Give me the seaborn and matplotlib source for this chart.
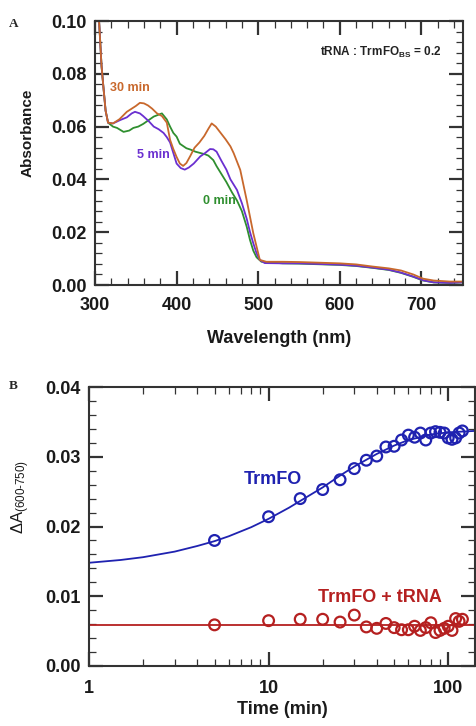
import numpy as np
import pandas as pd
import matplotlib
matplotlib.use("Agg")
import matplotlib.pyplot as plt
from matplotlib.ticker import MultipleLocator, FixedLocator, NullFormatter, LogLocator
import seaborn as sns

sns.set_theme(style="ticks")
plt.rcParams['font.family'] = ['Liberation Sans', 'DejaVu Sans']
plt.rcParams['mathtext.fontset'] = 'custom'
plt.rcParams['mathtext.rm'] = 'Liberation Sans'
plt.rcParams['mathtext.bf'] = 'Liberation Sans:bold'
plt.rcParams['mathtext.default'] = 'regular'

# ---------------- Panel A data (absorbance spectra) ----------------
wl_30 = [302, 305, 308, 310, 313, 316, 322, 330, 339, 350, 355, 360, 365, 370, 376, 382,
         388, 392, 396, 400, 404, 408, 412, 417, 422, 428, 434, 439, 443, 448, 453, 460,
         466, 470, 478, 486, 494, 502, 510, 530, 550, 570, 600, 620, 640, 660, 675, 690,
         702, 715, 735, 750]
abs_30 = [0.115, 0.100, 0.083, 0.076, 0.066, 0.0615, 0.0612, 0.0628, 0.0656, 0.0678, 0.069,
          0.0688, 0.068, 0.0668, 0.065, 0.0640, 0.0615, 0.055, 0.0515, 0.0485, 0.0460, 0.0451,
          0.0462, 0.049, 0.052, 0.054, 0.0565, 0.0592, 0.0612, 0.060, 0.058, 0.0552, 0.0525,
          0.0499, 0.0436, 0.032, 0.0196, 0.0095, 0.0088, 0.0088, 0.0087, 0.0085, 0.0082,
          0.0078, 0.0070, 0.0063, 0.0055, 0.0040, 0.0024, 0.0017, 0.0013, 0.0013]

wl_5 = [302, 305, 308, 310, 313, 316, 322, 331, 339, 345, 349, 355, 359, 366, 372, 378,
        384, 388, 392, 396, 400, 405, 410, 415, 421, 429, 435, 441, 445, 449, 455, 461,
        466, 474, 480, 486, 490, 494, 498, 502, 508, 530, 550, 570, 600, 620, 640, 660,
        675, 690, 702, 715, 735, 750]
abs_5 = [0.115, 0.100, 0.083, 0.076, 0.066, 0.0615, 0.0612, 0.0625, 0.0635, 0.065, 0.0656,
         0.065, 0.064, 0.062, 0.060, 0.059, 0.0576, 0.056, 0.054, 0.050, 0.046, 0.0443, 0.0437,
         0.0445, 0.046, 0.0487, 0.050, 0.0515, 0.0514, 0.0505, 0.047, 0.0437, 0.0400, 0.036,
         0.031, 0.0250, 0.020, 0.0158, 0.012, 0.0095, 0.0083, 0.0082, 0.0082, 0.0080, 0.0077,
         0.0073, 0.0066, 0.0058, 0.0047, 0.0032, 0.0018, 0.0010, 0.0008, 0.0010]

wl_0 = [302, 305, 308, 310, 313, 316, 322, 327, 335, 342, 347, 353, 359, 366, 372, 382,
        388, 392, 396, 400, 404, 412, 417, 423, 429, 435, 439, 445, 449, 455, 461, 468,
        474, 480, 486, 490, 494, 498, 504, 530, 550, 570, 600, 620, 640, 660, 675, 690,
        702, 715, 735, 750]
abs_0 = [0.115, 0.100, 0.083, 0.076, 0.066, 0.0615, 0.060, 0.0595, 0.058, 0.0585, 0.0595,
         0.060, 0.061, 0.0625, 0.0638, 0.065, 0.0627, 0.060, 0.0576, 0.0562, 0.0535, 0.0518,
         0.0513, 0.0505, 0.0500, 0.0495, 0.049, 0.0473, 0.045, 0.042, 0.0390, 0.035, 0.032,
         0.028, 0.022, 0.017, 0.013, 0.0105, 0.0088, 0.0082, 0.0081, 0.0079, 0.0076, 0.0072,
         0.0065, 0.0057, 0.0046, 0.0031, 0.0017, 0.0010, 0.0008, 0.0010]

# ---------------- Panel B data (kinetics) ----------------
time_min = [5, 10, 15, 20, 25, 30, 35, 40, 45, 50, 55, 60, 65, 70, 75, 80, 85, 90,
            95, 100, 105, 110, 115, 120]
dA_trmfo = [0.0180, 0.0214, 0.0240, 0.0253, 0.0267, 0.0283, 0.0295, 0.0301, 0.0314,
            0.0315, 0.0324, 0.0331, 0.0328, 0.0334, 0.0324, 0.0334, 0.0336, 0.0335,
            0.0334, 0.0327, 0.0325, 0.0327, 0.0334, 0.0337]
dA_trna = [0.0059, 0.0065, 0.0067, 0.0067, 0.0063, 0.0073, 0.0056, 0.0054, 0.0061,
           0.0055, 0.0052, 0.0052, 0.0057, 0.0051, 0.0055, 0.0062, 0.0048, 0.0051,
           0.0054, 0.0057, 0.0051, 0.0068, 0.0064, 0.0067]
fit_t = [1, 1.5, 2, 3, 4, 5, 6, 8, 10, 13, 16, 20, 25, 30, 40, 50, 60, 70, 80, 100, 140]
fit_trmfo = [0.0148, 0.0152, 0.0156, 0.0164, 0.0172, 0.0179, 0.0186, 0.0199, 0.0211,
             0.0227, 0.0241, 0.0256, 0.0273, 0.0286, 0.0304, 0.0316, 0.0324, 0.0328,
             0.0332, 0.0335, 0.0337]
fit_trna_t = [1, 140]
fit_trna = [0.0059, 0.0059]

C_ORANGE = "#c8682c"
C_PURPLE = "#6a2fd0"
C_GREEN = "#2f8f2f"
C_BLUE = "#1f22b0"
C_RED = "#b52020"
SPINE = "#333333"

fig = plt.figure(figsize=(4.76, 7.26), dpi=100)
axA = fig.add_axes([95/476, 1-285/726, (463-95)/476, (285-21)/726])
axB = fig.add_axes([89/476, 1-666/726, (475-89)/476, (666-387)/726])

def style(ax, xpad):
    for s in ax.spines.values():
        s.set_color(SPINE)
        s.set_linewidth(1.5)
    ax.tick_params(which='both', direction='in', top=True, right=True, colors=SPINE,
                   labelcolor='#1a1a1a', labelsize=13)
    ax.tick_params(which='major', length=10, width=1.6, pad=6)
    ax.tick_params(axis='x', which='major', pad=xpad)
    ax.tick_params(which='minor', length=5, width=0.9)
    for lab in ax.get_xticklabels() + ax.get_yticklabels():
        lab.set_fontweight('bold')

# ---------------- Panel A ----------------
for wl, ab, col in [(wl_0, abs_0, C_GREEN), (wl_5, abs_5, C_PURPLE), (wl_30, abs_30, C_ORANGE)]:
    sns.lineplot(x=wl, y=ab, ax=axA, color=col, lw=1.3, sort=False, estimator=None)
axA.set_xlim(300, 751)
axA.set_ylim(0, 0.10)
axA.xaxis.set_major_locator(MultipleLocator(100))
axA.xaxis.set_minor_locator(MultipleLocator(20))
axA.yaxis.set_major_locator(MultipleLocator(0.02))
axA.yaxis.set_minor_locator(MultipleLocator(0.004))
axA.yaxis.set_major_formatter(matplotlib.ticker.FormatStrFormatter('%.2f'))
style(axA, 9)
axA.set_xlabel("Wavelength (nm)", fontsize=13, fontweight='bold', color='#1a1a1a', labelpad=11)
axA.set_ylabel("Absorbance", fontsize=11, fontweight='bold', color='#1a1a1a')
axA.yaxis.set_label_coords((35-95)/368, (285-133)/264)
fig.text(110/476, 1-88/726, "30 min", color=C_ORANGE, fontsize=9, fontweight='bold',
         va='center', ha='left')
fig.text(137/476, 1-155/726, "5 min", color=C_PURPLE, fontsize=9, fontweight='bold',
         va='center', ha='left')
fig.text(203/476, 1-201/726, "0 min", color=C_GREEN, fontsize=9, fontweight='bold',
         va='center', ha='left')
fig.text(441/476, 1-52/726, r"tRNA : TrmFO$_{\mathbf{BS}}$ = 0.2", color='#222222',
         fontsize=8.5, fontweight='bold', va='center', ha='right')
fig.text(14/476, 1-24/726, "A", family=['Liberation Serif', 'DejaVu Serif'],
         fontsize=9.5, fontweight='bold', ha='center', va='center')

# ---------------- Panel B ----------------
sns.lineplot(x=fit_t, y=fit_trmfo, ax=axB, color=C_BLUE, lw=1.3, sort=False, estimator=None)
sns.lineplot(x=fit_trna_t, y=fit_trna, ax=axB, color=C_RED, lw=1.3, sort=False, estimator=None)
sns.scatterplot(x=time_min, y=dA_trmfo, ax=axB, marker='o', s=60, fc='none', ec=C_BLUE,
                linewidth=1.6, zorder=3)
sns.scatterplot(x=time_min, y=dA_trna, ax=axB, marker='o', s=60, fc='none', ec=C_RED,
                linewidth=1.6, zorder=3)
axB.set_xscale('log')
axB.set_xlim(1, 141)
axB.set_ylim(0, 0.04)
axB.xaxis.set_major_locator(FixedLocator([1, 10, 100]))
axB.xaxis.set_major_formatter(matplotlib.ticker.FixedFormatter(['1', '10', '100']))
axB.xaxis.set_minor_locator(LogLocator(base=10, subs=np.arange(2, 10)))
axB.xaxis.set_minor_formatter(NullFormatter())
axB.yaxis.set_major_locator(MultipleLocator(0.01))
axB.yaxis.set_minor_locator(MultipleLocator(0.002))
axB.yaxis.set_major_formatter(matplotlib.ticker.FormatStrFormatter('%.2f'))
style(axB, 10)
axB.set_xlabel("Time (min)", fontsize=13, fontweight='bold', color='#1a1a1a', labelpad=3)
axB.set_ylabel(r"ΔA$_{(600\text{-}750)}$", fontsize=12, color='#1a1a1a')
axB.yaxis.set_label_coords((32-89)/386, (666-497)/279)
fig.text(273/476, 1-479/726, "TrmFO", color=C_BLUE, fontsize=13, fontweight='bold',
         ha='center', va='center')
fig.text(380/476, 1-597/726, "TrmFO + tRNA", color=C_RED, fontsize=13, fontweight='bold',
         ha='center', va='center')
fig.text(13/476, 1-386/726, "B", family=['Liberation Serif', 'DejaVu Serif'],
         fontsize=9.5, fontweight='bold', ha='center', va='center')

fig.savefig("out.png", dpi=100)
